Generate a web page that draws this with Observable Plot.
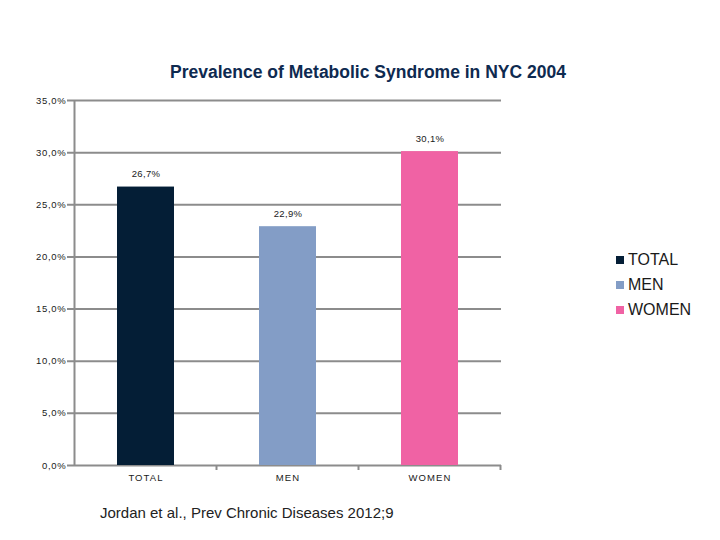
<!DOCTYPE html>
<html>
<head>
<meta charset="utf-8">
<script src="https://cdn.jsdelivr.net/npm/d3@7"></script>
<script src="https://cdn.jsdelivr.net/npm/@observablehq/plot@0.6"></script>
<style>
  html, body { margin: 0; padding: 0; background: #fff; }
  #wrap { position: relative; width: 720px; height: 540px; font-family: "Liberation Sans", Arial, sans-serif; }
  #title { position: absolute; top: 62px; left: 0; width: 736px; text-align: center; font-size: 17.5px; font-weight: bold; color: #0e2a50; }
  #chart { position: absolute; top: 90px; left: 0; }
  #legend { position: absolute; left: 616px; top: 247px; font-size: 16px; color: #1a1a1a; }
  #legend .item { display: flex; align-items: center; height: 25px; }
  #legend .sw { width: 8px; height: 8px; margin-right: 4px; }
  #caption { position: absolute; left: 100px; top: 504px; font-size: 15px; color: #222; }
  #chart g[aria-label="y-axis tick label"] text { letter-spacing: 0.7px; }
  #chart g[aria-label="x-axis tick label"] text { letter-spacing: 1.1px; }
  #chart g[aria-label="text"] text { letter-spacing: 0.3px; }
</style>
</head>
<body>
<div id="wrap">
  <div id="title"></div>
  <div id="chart"></div>
  <div id="legend"></div>
  <div id="caption"></div>
</div>
<script>
const titleText = "Prevalence of Metabolic Syndrome in NYC 2004";
const captionText = "Jordan et al., Prev Chronic Diseases 2012;9";
const categories = ["TOTAL", "MEN", "WOMEN"];
const values = [26.7, 22.9, 30.1];
const colors = ["#041e36", "#839dc6", "#f062a4"];
const yTicks = [0, 5, 10, 15, 20, 25, 30, 35];

const data = categories.map((c, i) => ({cat: c, value: values[i]}));
const pct = v => d3.format(".1f")(v).replace(".", ",") + "%";

document.getElementById("title").textContent = titleText;
document.getElementById("caption").textContent = captionText;

const plot = Plot.plot({
  width: 720,
  height: 400,
  marginLeft: 73,
  marginRight: 219,
  marginTop: 10,
  marginBottom: 25,
  style: {fontFamily: "Liberation Sans, Arial, sans-serif", fontSize: "9px", color: "#1a1a1a", background: "#fff"},
  x: {domain: categories, paddingInner: 0.6, paddingOuter: 0.3, label: null},
  y: {domain: [0, 35], label: null},
  color: {domain: categories, range: colors},
  marks: [
    Plot.ruleY(yTicks, {stroke: "#8c8c8c", strokeWidth: 2, insetLeft: -6}),
    Plot.barY(data, {x: "cat", y: "value", fill: "cat"}),
    Plot.text(data, {x: "cat", y: "value", text: d => pct(d.value), dy: -13, fontSize: 9.5, fill: "#1a1a1a"}),
    Plot.axisY({ticks: yTicks, tickFormat: pct, tickSize: 0, tickPadding: 7, fill: "#1a1a1a", fontSize: 9.5, label: null}),
    Plot.axisX({tickSize: 0, tickPadding: 9, fill: "#1a1a1a", fontSize: 9.5, label: null})
  ]
});
document.getElementById("chart").appendChild(plot);

// axis line and boundary ticks on the category axis, computed from the scales
const sx = plot.scale("x");
const sy = plot.scale("y");
const step = sx.step, bw = sx.bandwidth;
const y0 = sy.apply(0);
const svg = d3.select(plot);
const bounds = [];
categories.forEach((c, i) => {
  const start = sx.apply(c) - (step - bw) / 2;
  bounds.push(start);
  if (i === categories.length - 1) bounds.push(start + step);
});
svg.append("line")
  .attr("x1", bounds[0]).attr("x2", bounds[0])
  .attr("y1", sy.apply(35)).attr("y2", y0 + 1)
  .attr("stroke", "#8c8c8c").attr("stroke-width", 2);
svg.append("g").selectAll("line").data(bounds.slice(1)).join("line")
  .attr("x1", d => d).attr("x2", d => d)
  .attr("y1", y0).attr("y2", y0 + 5)
  .attr("stroke", "#8c8c8c").attr("stroke-width", 2);

// legend
const leg = d3.select("#legend");
categories.forEach((c, i) => {
  const it = leg.append("div").attr("class", "item");
  it.append("div").attr("class", "sw").style("background", colors[i]);
  it.append("span").text(c);
});
</script>
</body>
</html>
